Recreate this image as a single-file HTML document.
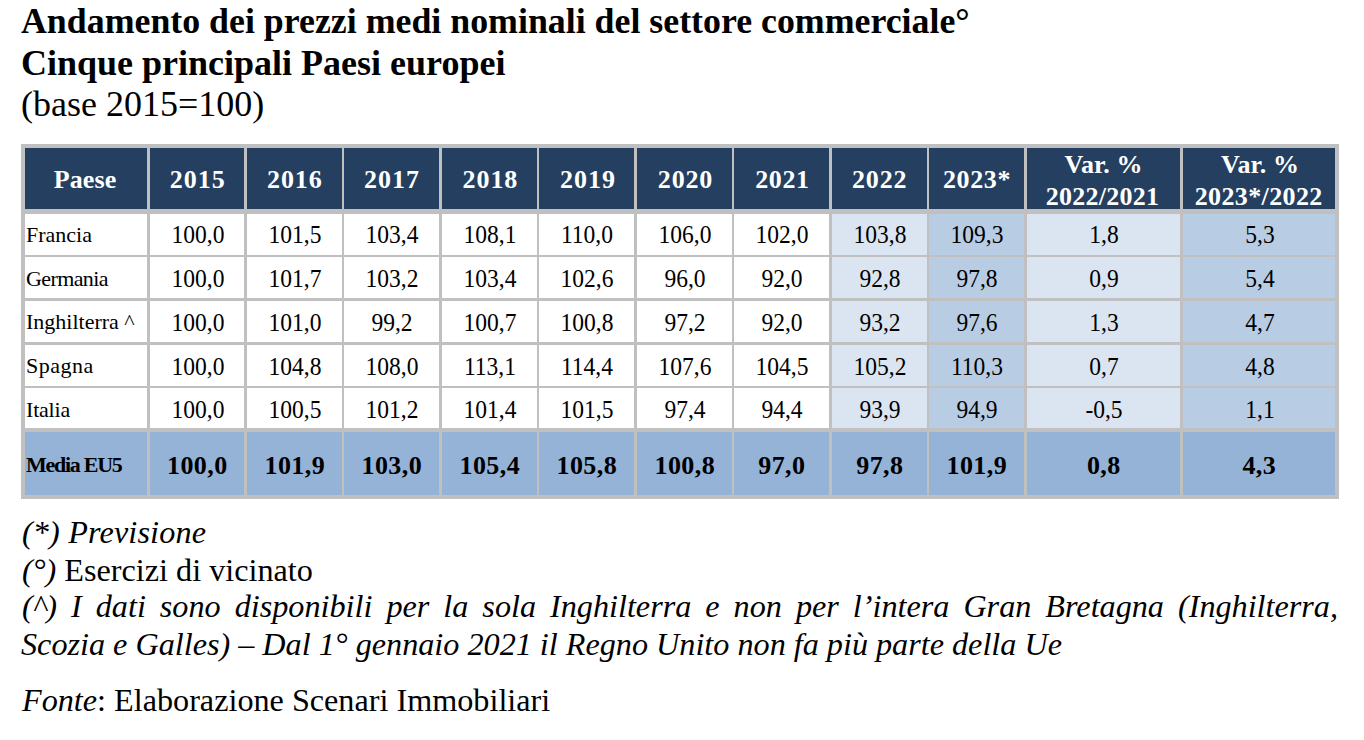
<!DOCTYPE html>
<html><head><meta charset="utf-8"><style>
html,body{margin:0;padding:0;background:#fff;width:1364px;height:740px;overflow:hidden;}
.b{position:absolute;}
.t{position:absolute;white-space:nowrap;line-height:1;font-family:'Liberation Serif', serif;color:#000;}
</style></head><body>
<div class="b" style="left:21px;top:144px;width:1318px;height:355px;background:#c0c0c0"></div>
<div class="b" style="left:25px;top:148px;width:122px;height:61px;background:#243f60"></div>
<div class="b" style="left:150px;top:148px;width:94px;height:61px;background:#243f60"></div>
<div class="b" style="left:247px;top:148px;width:95px;height:61px;background:#243f60"></div>
<div class="b" style="left:344px;top:148px;width:95px;height:61px;background:#243f60"></div>
<div class="b" style="left:442px;top:148px;width:95px;height:61px;background:#243f60"></div>
<div class="b" style="left:539px;top:148px;width:95px;height:61px;background:#243f60"></div>
<div class="b" style="left:637px;top:148px;width:95px;height:61px;background:#243f60"></div>
<div class="b" style="left:734px;top:148px;width:95px;height:61px;background:#243f60"></div>
<div class="b" style="left:832px;top:148px;width:95px;height:61px;background:#243f60"></div>
<div class="b" style="left:929px;top:148px;width:95px;height:61px;background:#243f60"></div>
<div class="b" style="left:1027px;top:148px;width:153px;height:61px;background:#243f60"></div>
<div class="b" style="left:1183px;top:148px;width:152px;height:61px;background:#243f60"></div>
<div class="b" style="left:25px;top:214px;width:122px;height:41px;background:#ffffff"></div>
<div class="b" style="left:150px;top:214px;width:94px;height:41px;background:#ffffff"></div>
<div class="b" style="left:247px;top:214px;width:95px;height:41px;background:#ffffff"></div>
<div class="b" style="left:344px;top:214px;width:95px;height:41px;background:#ffffff"></div>
<div class="b" style="left:442px;top:214px;width:95px;height:41px;background:#ffffff"></div>
<div class="b" style="left:539px;top:214px;width:95px;height:41px;background:#ffffff"></div>
<div class="b" style="left:637px;top:214px;width:95px;height:41px;background:#ffffff"></div>
<div class="b" style="left:734px;top:214px;width:95px;height:41px;background:#ffffff"></div>
<div class="b" style="left:832px;top:214px;width:95px;height:41px;background:#dbe5f1"></div>
<div class="b" style="left:929px;top:214px;width:95px;height:41px;background:#b8cce4"></div>
<div class="b" style="left:1027px;top:214px;width:153px;height:41px;background:#dbe5f1"></div>
<div class="b" style="left:1183px;top:214px;width:152px;height:41px;background:#b8cce4"></div>
<div class="b" style="left:25px;top:257px;width:122px;height:41px;background:#ffffff"></div>
<div class="b" style="left:150px;top:257px;width:94px;height:41px;background:#ffffff"></div>
<div class="b" style="left:247px;top:257px;width:95px;height:41px;background:#ffffff"></div>
<div class="b" style="left:344px;top:257px;width:95px;height:41px;background:#ffffff"></div>
<div class="b" style="left:442px;top:257px;width:95px;height:41px;background:#ffffff"></div>
<div class="b" style="left:539px;top:257px;width:95px;height:41px;background:#ffffff"></div>
<div class="b" style="left:637px;top:257px;width:95px;height:41px;background:#ffffff"></div>
<div class="b" style="left:734px;top:257px;width:95px;height:41px;background:#ffffff"></div>
<div class="b" style="left:832px;top:257px;width:95px;height:41px;background:#dbe5f1"></div>
<div class="b" style="left:929px;top:257px;width:95px;height:41px;background:#b8cce4"></div>
<div class="b" style="left:1027px;top:257px;width:153px;height:41px;background:#dbe5f1"></div>
<div class="b" style="left:1183px;top:257px;width:152px;height:41px;background:#b8cce4"></div>
<div class="b" style="left:25px;top:301px;width:122px;height:41px;background:#ffffff"></div>
<div class="b" style="left:150px;top:301px;width:94px;height:41px;background:#ffffff"></div>
<div class="b" style="left:247px;top:301px;width:95px;height:41px;background:#ffffff"></div>
<div class="b" style="left:344px;top:301px;width:95px;height:41px;background:#ffffff"></div>
<div class="b" style="left:442px;top:301px;width:95px;height:41px;background:#ffffff"></div>
<div class="b" style="left:539px;top:301px;width:95px;height:41px;background:#ffffff"></div>
<div class="b" style="left:637px;top:301px;width:95px;height:41px;background:#ffffff"></div>
<div class="b" style="left:734px;top:301px;width:95px;height:41px;background:#ffffff"></div>
<div class="b" style="left:832px;top:301px;width:95px;height:41px;background:#dbe5f1"></div>
<div class="b" style="left:929px;top:301px;width:95px;height:41px;background:#b8cce4"></div>
<div class="b" style="left:1027px;top:301px;width:153px;height:41px;background:#dbe5f1"></div>
<div class="b" style="left:1183px;top:301px;width:152px;height:41px;background:#b8cce4"></div>
<div class="b" style="left:25px;top:345px;width:122px;height:41px;background:#ffffff"></div>
<div class="b" style="left:150px;top:345px;width:94px;height:41px;background:#ffffff"></div>
<div class="b" style="left:247px;top:345px;width:95px;height:41px;background:#ffffff"></div>
<div class="b" style="left:344px;top:345px;width:95px;height:41px;background:#ffffff"></div>
<div class="b" style="left:442px;top:345px;width:95px;height:41px;background:#ffffff"></div>
<div class="b" style="left:539px;top:345px;width:95px;height:41px;background:#ffffff"></div>
<div class="b" style="left:637px;top:345px;width:95px;height:41px;background:#ffffff"></div>
<div class="b" style="left:734px;top:345px;width:95px;height:41px;background:#ffffff"></div>
<div class="b" style="left:832px;top:345px;width:95px;height:41px;background:#dbe5f1"></div>
<div class="b" style="left:929px;top:345px;width:95px;height:41px;background:#b8cce4"></div>
<div class="b" style="left:1027px;top:345px;width:153px;height:41px;background:#dbe5f1"></div>
<div class="b" style="left:1183px;top:345px;width:152px;height:41px;background:#b8cce4"></div>
<div class="b" style="left:25px;top:388px;width:122px;height:40px;background:#ffffff"></div>
<div class="b" style="left:150px;top:388px;width:94px;height:40px;background:#ffffff"></div>
<div class="b" style="left:247px;top:388px;width:95px;height:40px;background:#ffffff"></div>
<div class="b" style="left:344px;top:388px;width:95px;height:40px;background:#ffffff"></div>
<div class="b" style="left:442px;top:388px;width:95px;height:40px;background:#ffffff"></div>
<div class="b" style="left:539px;top:388px;width:95px;height:40px;background:#ffffff"></div>
<div class="b" style="left:637px;top:388px;width:95px;height:40px;background:#ffffff"></div>
<div class="b" style="left:734px;top:388px;width:95px;height:40px;background:#ffffff"></div>
<div class="b" style="left:832px;top:388px;width:95px;height:40px;background:#dbe5f1"></div>
<div class="b" style="left:929px;top:388px;width:95px;height:40px;background:#b8cce4"></div>
<div class="b" style="left:1027px;top:388px;width:153px;height:40px;background:#dbe5f1"></div>
<div class="b" style="left:1183px;top:388px;width:152px;height:40px;background:#b8cce4"></div>
<div class="b" style="left:25px;top:432px;width:122px;height:63px;background:#95b3d7"></div>
<div class="b" style="left:150px;top:432px;width:94px;height:63px;background:#95b3d7"></div>
<div class="b" style="left:247px;top:432px;width:95px;height:63px;background:#95b3d7"></div>
<div class="b" style="left:344px;top:432px;width:95px;height:63px;background:#95b3d7"></div>
<div class="b" style="left:442px;top:432px;width:95px;height:63px;background:#95b3d7"></div>
<div class="b" style="left:539px;top:432px;width:95px;height:63px;background:#95b3d7"></div>
<div class="b" style="left:637px;top:432px;width:95px;height:63px;background:#95b3d7"></div>
<div class="b" style="left:734px;top:432px;width:95px;height:63px;background:#95b3d7"></div>
<div class="b" style="left:832px;top:432px;width:95px;height:63px;background:#95b3d7"></div>
<div class="b" style="left:929px;top:432px;width:95px;height:63px;background:#95b3d7"></div>
<div class="b" style="left:1027px;top:432px;width:153px;height:63px;background:#95b3d7"></div>
<div class="b" style="left:1183px;top:432px;width:152px;height:63px;background:#95b3d7"></div>
<div class="t" style="left:21px;top:4px;font-size:35.85px;font-weight:bold;">Andamento dei prezzi medi nominali del settore commerciale°</div>
<div class="t" style="left:21px;top:45px;font-size:36px;font-weight:bold;">Cinque principali Paesi europei</div>
<div class="t" style="left:21px;top:86px;font-size:36px;">(base 2015=100)</div>
<div class="t" style="left:-115.0px;width:400px;text-align:center;top:167px;font-size:26px;font-weight:bold;color:#fff;letter-spacing:0.1px;">Paese</div>
<div class="t" style="left:-2.25px;width:400px;text-align:center;top:167px;font-size:26px;font-weight:bold;color:#fff;letter-spacing:0.95px;">2015</div>
<div class="t" style="left:94.85000000000002px;width:400px;text-align:center;top:167px;font-size:26px;font-weight:bold;color:#fff;letter-spacing:0.95px;">2016</div>
<div class="t" style="left:191.95px;width:400px;text-align:center;top:167px;font-size:26px;font-weight:bold;color:#fff;letter-spacing:0.95px;">2017</div>
<div class="t" style="left:290.4px;width:400px;text-align:center;top:167px;font-size:26px;font-weight:bold;color:#fff;letter-spacing:0.95px;">2018</div>
<div class="t" style="left:388.0px;width:400px;text-align:center;top:167px;font-size:26px;font-weight:bold;color:#fff;letter-spacing:0.95px;">2019</div>
<div class="t" style="left:485.5px;width:400px;text-align:center;top:167px;font-size:26px;font-weight:bold;color:#fff;letter-spacing:0.85px;">2020</div>
<div class="t" style="left:582.4px;width:400px;text-align:center;top:167px;font-size:26px;font-weight:bold;color:#fff;letter-spacing:0.6px;">2021</div>
<div class="t" style="left:679.7px;width:400px;text-align:center;top:167px;font-size:26px;font-weight:bold;color:#fff;letter-spacing:0.85px;">2022</div>
<div class="t" style="left:777.0px;width:400px;text-align:center;top:167px;font-size:26px;font-weight:bold;color:#fff;letter-spacing:0.65px;">2023*</div>
<div class="t" style="left:903.5px;width:400px;text-align:center;top:152px;font-size:26px;font-weight:bold;color:#fff;letter-spacing:0.1px;">Var. %</div>
<div class="t" style="left:902.5px;width:400px;text-align:center;top:184px;font-size:26px;font-weight:bold;color:#fff;letter-spacing:0.25px;">2022/2021</div>
<div class="t" style="left:1060.0px;width:400px;text-align:center;top:152px;font-size:26px;font-weight:bold;color:#fff;letter-spacing:0.1px;">Var. %</div>
<div class="t" style="left:1058.7px;width:400px;text-align:center;top:184px;font-size:26px;font-weight:bold;color:#fff;letter-spacing:0.38px;">2023*/2022</div>
<div class="t" style="left:26px;top:224px;font-size:22px;">Francia</div>
<div class="t" style="left:-2.4000000000000057px;width:400px;text-align:center;top:222px;font-size:26px;transform:scaleX(0.904);">100,0</div>
<div class="t" style="left:95.10000000000002px;width:400px;text-align:center;top:222px;font-size:26px;transform:scaleX(0.904);">101,5</div>
<div class="t" style="left:192.10000000000002px;width:400px;text-align:center;top:222px;font-size:26px;transform:scaleX(0.904);">103,4</div>
<div class="t" style="left:290.1px;width:400px;text-align:center;top:222px;font-size:26px;transform:scaleX(0.904);">108,1</div>
<div class="t" style="left:387.1px;width:400px;text-align:center;top:222px;font-size:26px;transform:scaleX(0.904);">110,0</div>
<div class="t" style="left:485.1px;width:400px;text-align:center;top:222px;font-size:26px;transform:scaleX(0.904);">106,0</div>
<div class="t" style="left:582.1px;width:400px;text-align:center;top:222px;font-size:26px;transform:scaleX(0.904);">102,0</div>
<div class="t" style="left:680.1px;width:400px;text-align:center;top:222px;font-size:26px;transform:scaleX(0.904);">103,8</div>
<div class="t" style="left:777.1px;width:400px;text-align:center;top:222px;font-size:26px;transform:scaleX(0.904);">109,3</div>
<div class="t" style="left:904.0999999999999px;width:400px;text-align:center;top:222px;font-size:26px;transform:scaleX(0.904);">1,8</div>
<div class="t" style="left:1059.6px;width:400px;text-align:center;top:222px;font-size:26px;transform:scaleX(0.904);">5,3</div>
<div class="t" style="left:26px;top:268px;font-size:22px;letter-spacing:-0.6px;">Germania</div>
<div class="t" style="left:-2.4000000000000057px;width:400px;text-align:center;top:266px;font-size:26px;transform:scaleX(0.904);">100,0</div>
<div class="t" style="left:95.10000000000002px;width:400px;text-align:center;top:266px;font-size:26px;transform:scaleX(0.904);">101,7</div>
<div class="t" style="left:192.10000000000002px;width:400px;text-align:center;top:266px;font-size:26px;transform:scaleX(0.904);">103,2</div>
<div class="t" style="left:290.1px;width:400px;text-align:center;top:266px;font-size:26px;transform:scaleX(0.904);">103,4</div>
<div class="t" style="left:387.1px;width:400px;text-align:center;top:266px;font-size:26px;transform:scaleX(0.904);">102,6</div>
<div class="t" style="left:485.1px;width:400px;text-align:center;top:266px;font-size:26px;transform:scaleX(0.904);">96,0</div>
<div class="t" style="left:582.1px;width:400px;text-align:center;top:266px;font-size:26px;transform:scaleX(0.904);">92,0</div>
<div class="t" style="left:680.1px;width:400px;text-align:center;top:266px;font-size:26px;transform:scaleX(0.904);">92,8</div>
<div class="t" style="left:777.1px;width:400px;text-align:center;top:266px;font-size:26px;transform:scaleX(0.904);">97,8</div>
<div class="t" style="left:904.0999999999999px;width:400px;text-align:center;top:266px;font-size:26px;transform:scaleX(0.904);">0,9</div>
<div class="t" style="left:1059.6px;width:400px;text-align:center;top:266px;font-size:26px;transform:scaleX(0.904);">5,4</div>
<div class="t" style="left:26px;top:311px;font-size:22px;">Inghilterra ^</div>
<div class="t" style="left:-2.4000000000000057px;width:400px;text-align:center;top:310px;font-size:26px;transform:scaleX(0.904);">100,0</div>
<div class="t" style="left:95.10000000000002px;width:400px;text-align:center;top:310px;font-size:26px;transform:scaleX(0.904);">101,0</div>
<div class="t" style="left:192.10000000000002px;width:400px;text-align:center;top:310px;font-size:26px;transform:scaleX(0.904);">99,2</div>
<div class="t" style="left:290.1px;width:400px;text-align:center;top:310px;font-size:26px;transform:scaleX(0.904);">100,7</div>
<div class="t" style="left:387.1px;width:400px;text-align:center;top:310px;font-size:26px;transform:scaleX(0.904);">100,8</div>
<div class="t" style="left:485.1px;width:400px;text-align:center;top:310px;font-size:26px;transform:scaleX(0.904);">97,2</div>
<div class="t" style="left:582.1px;width:400px;text-align:center;top:310px;font-size:26px;transform:scaleX(0.904);">92,0</div>
<div class="t" style="left:680.1px;width:400px;text-align:center;top:310px;font-size:26px;transform:scaleX(0.904);">93,2</div>
<div class="t" style="left:777.1px;width:400px;text-align:center;top:310px;font-size:26px;transform:scaleX(0.904);">97,6</div>
<div class="t" style="left:904.0999999999999px;width:400px;text-align:center;top:310px;font-size:26px;transform:scaleX(0.904);">1,3</div>
<div class="t" style="left:1059.6px;width:400px;text-align:center;top:310px;font-size:26px;transform:scaleX(0.904);">4,7</div>
<div class="t" style="left:26px;top:355px;font-size:22px;letter-spacing:0.5px;">Spagna</div>
<div class="t" style="left:-2.4000000000000057px;width:400px;text-align:center;top:354px;font-size:26px;transform:scaleX(0.904);">100,0</div>
<div class="t" style="left:95.10000000000002px;width:400px;text-align:center;top:354px;font-size:26px;transform:scaleX(0.904);">104,8</div>
<div class="t" style="left:192.10000000000002px;width:400px;text-align:center;top:354px;font-size:26px;transform:scaleX(0.904);">108,0</div>
<div class="t" style="left:290.1px;width:400px;text-align:center;top:354px;font-size:26px;transform:scaleX(0.904);">113,1</div>
<div class="t" style="left:387.1px;width:400px;text-align:center;top:354px;font-size:26px;transform:scaleX(0.904);">114,4</div>
<div class="t" style="left:485.1px;width:400px;text-align:center;top:354px;font-size:26px;transform:scaleX(0.904);">107,6</div>
<div class="t" style="left:582.1px;width:400px;text-align:center;top:354px;font-size:26px;transform:scaleX(0.904);">104,5</div>
<div class="t" style="left:680.1px;width:400px;text-align:center;top:354px;font-size:26px;transform:scaleX(0.904);">105,2</div>
<div class="t" style="left:777.1px;width:400px;text-align:center;top:354px;font-size:26px;transform:scaleX(0.904);">110,3</div>
<div class="t" style="left:904.0999999999999px;width:400px;text-align:center;top:354px;font-size:26px;transform:scaleX(0.904);">0,7</div>
<div class="t" style="left:1059.6px;width:400px;text-align:center;top:354px;font-size:26px;transform:scaleX(0.904);">4,8</div>
<div class="t" style="left:26px;top:399px;font-size:22px;letter-spacing:-0.2px;">Italia</div>
<div class="t" style="left:-2.4000000000000057px;width:400px;text-align:center;top:397px;font-size:26px;transform:scaleX(0.904);">100,0</div>
<div class="t" style="left:95.10000000000002px;width:400px;text-align:center;top:397px;font-size:26px;transform:scaleX(0.904);">100,5</div>
<div class="t" style="left:192.10000000000002px;width:400px;text-align:center;top:397px;font-size:26px;transform:scaleX(0.904);">101,2</div>
<div class="t" style="left:290.1px;width:400px;text-align:center;top:397px;font-size:26px;transform:scaleX(0.904);">101,4</div>
<div class="t" style="left:387.1px;width:400px;text-align:center;top:397px;font-size:26px;transform:scaleX(0.904);">101,5</div>
<div class="t" style="left:485.1px;width:400px;text-align:center;top:397px;font-size:26px;transform:scaleX(0.904);">97,4</div>
<div class="t" style="left:582.1px;width:400px;text-align:center;top:397px;font-size:26px;transform:scaleX(0.904);">94,4</div>
<div class="t" style="left:680.1px;width:400px;text-align:center;top:397px;font-size:26px;transform:scaleX(0.904);">93,9</div>
<div class="t" style="left:777.1px;width:400px;text-align:center;top:397px;font-size:26px;transform:scaleX(0.904);">94,9</div>
<div class="t" style="left:904.0999999999999px;width:400px;text-align:center;top:397px;font-size:26px;transform:scaleX(0.904);">-0,5</div>
<div class="t" style="left:1059.6px;width:400px;text-align:center;top:397px;font-size:26px;transform:scaleX(0.904);">1,1</div>
<div class="t" style="left:26px;top:454px;font-size:22px;font-weight:bold;letter-spacing:-1.27px;">Media EU5</div>
<div class="t" style="left:-2.6999999999999886px;width:400px;text-align:center;top:453px;font-size:26px;font-weight:bold;letter-spacing:0.4px;">100,0</div>
<div class="t" style="left:94.80000000000001px;width:400px;text-align:center;top:453px;font-size:26px;font-weight:bold;letter-spacing:0.4px;">101,9</div>
<div class="t" style="left:191.8px;width:400px;text-align:center;top:453px;font-size:26px;font-weight:bold;letter-spacing:0.4px;">103,0</div>
<div class="t" style="left:289.8px;width:400px;text-align:center;top:453px;font-size:26px;font-weight:bold;letter-spacing:0.4px;">105,4</div>
<div class="t" style="left:386.79999999999995px;width:400px;text-align:center;top:453px;font-size:26px;font-weight:bold;letter-spacing:0.4px;">105,8</div>
<div class="t" style="left:484.79999999999995px;width:400px;text-align:center;top:453px;font-size:26px;font-weight:bold;letter-spacing:0.4px;">100,8</div>
<div class="t" style="left:581.8px;width:400px;text-align:center;top:453px;font-size:26px;font-weight:bold;letter-spacing:0.4px;">97,0</div>
<div class="t" style="left:679.8px;width:400px;text-align:center;top:453px;font-size:26px;font-weight:bold;letter-spacing:0.4px;">97,8</div>
<div class="t" style="left:776.8px;width:400px;text-align:center;top:453px;font-size:26px;font-weight:bold;letter-spacing:0.4px;">101,9</div>
<div class="t" style="left:903.8px;width:400px;text-align:center;top:453px;font-size:26px;font-weight:bold;letter-spacing:0.4px;">0,8</div>
<div class="t" style="left:1059.3px;width:400px;text-align:center;top:453px;font-size:26px;font-weight:bold;letter-spacing:0.4px;">4,3</div>
<div class="t" style="left:22px;top:516px;font-size:32.2px;letter-spacing:0.15px;"><i>(*) Previsione</i></div>
<div class="t" style="left:22px;top:554px;font-size:32.2px;"><i>(°)</i> Esercizi di vicinato</div>
<div class="t" style="left:22px;top:590px;font-size:32.2px;width:1316px;text-align:justify;text-align-last:justify;"><i>(^) I dati sono disponibili per la sola Inghilterra e non per l’intera Gran Bretagna (Inghilterra,</i></div>
<div class="t" style="left:21px;top:628px;font-size:32.2px;"><i>Scozia e Galles) – Dal 1° gennaio 2021 il Regno Unito non fa più parte della Ue</i></div>
<div class="t" style="left:22px;top:684px;font-size:32.2px;"><i>Fonte</i>: Elaborazione Scenari Immobiliari</div>
</body></html>
